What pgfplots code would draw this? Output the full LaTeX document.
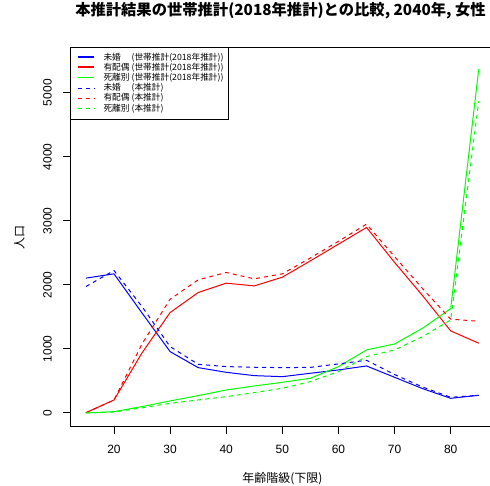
\documentclass[border=0pt]{standalone}
\usepackage{fontspec}
\setmainfont{Liberation Sans}
\newfontfamily\cjk{Noto Sans CJK JP}
\usepackage{pgfplots}
\pgfplotsset{compat=1.18}
\usepackage{pgfplotstable}
\definecolor{rblue}{RGB}{0,0,255}
\definecolor{rred}{RGB}{255,0,0}
\definecolor{rgreen}{RGB}{0,255,0}
\pgfplotstableread{
x  bs   bd   rs   rd   gs   gd
15 2105 1974 5    5    0    0
20 2172 2224 203  203  21   15
25 1560 1660 940  1080 100  80
30 958  1036 1568 1776 188  151
35 708  760  1880 2078 271  203
40 635  724  2026 2193 359  255
45 583  714  1984 2094 422  318
50 567  708  2120 2172 479  385
55 620  712  2375 2420 542  490
60 672  766  2635 2680 724  646
65 734  823  2896 2948 984  880
70 557  600  2350 2440 1078 984
75 380  405  1830 1940 1323 1193
80 229  245  1281 1464 1630 1453
85 276  276  1089 1432 5370 4864
}\data
\begin{document}
\begin{tikzpicture}
\useasboundingbox (-70.23pt,-59.3pt) rectangle (419.77pt,426.7pt);
\begin{axis}[
  at={(0,0)}, anchor=south west,
  scale only axis, width=424.24pt, height=379pt,
  xmin=12.2, xmax=87.8, ymin=-214, ymax=5702,
  xtick={20,30,...,80}, ytick={0,1000,...,5000},
  xtick pos=lower, ytick pos=left,
  tick align=outside, major tick length=7pt,
  every tick/.style={black, line width=1pt},
  axis line style={black, line width=1pt},
  /pgf/number format/assume math mode=true,
  /pgf/number format/1000 sep={},
  scaled y ticks=false,
  tick label style={font=\fontsize{12}{14}\selectfont},
  xticklabel style={anchor=north, inner sep=0pt},
  xticklabel shift=11.5pt,
  yticklabel style={rotate=90, anchor=south, inner sep=0pt},
  yticklabel shift=11.2pt,
  title={本推計結果の世帯推計(2018年推計)との比較, 2040年, 女性},
  title style={at={(axis description cs:0.4956,1.081)}, anchor=center, inner sep=0pt, font=\cjk\bfseries\fontsize{15.3}{17}\selectfont},
  xlabel={年齢階級(下限)},
  xlabel style={at={(axis description cs:0.5,-0.138)}, anchor=center, inner sep=0pt, font=\cjk\fontsize{12}{14}\selectfont},
  ylabel={人口},
  ylabel style={at={(axis description cs:-0.1195,0.5)}, anchor=center, inner sep=0pt, font=\cjk\fontsize{12}{14}\selectfont},
  legend style={at={(axis description cs:0,1)}, anchor=north west, draw=none, fill=none,
    inner xsep=6.7pt, inner ysep=4.5pt, row sep=0pt, column sep=8.4pt,
    font=\cjk\fontsize{8.7}{10}\selectfont,
    nodes={inner xsep=0pt, inner ysep=0.5pt, text height=7.2pt, text depth=2pt}},
  legend cell align=left,
]
\addplot[no markers, draw=rblue, line width=1pt,
  legend image code/.code={\draw[rblue, line width=1.4pt] (0pt,0.5pt) -- (16.6pt,0.5pt);}] table[x=x,y=bs]{\data};
\addplot[no markers, draw=rred, line width=1pt,
  legend image code/.code={\draw[rred, line width=1.4pt] (0pt,0.5pt) -- (16.6pt,0.5pt);}] table[x=x,y=rs]{\data};
\addplot[no markers, draw=rgreen, line width=1pt,
  legend image code/.code={\draw[rgreen, line width=1.4pt] (0pt,0.2pt) -- (16.6pt,0.2pt);}] table[x=x,y=gs]{\data};
\addplot[no markers, draw=rblue, line width=1pt, dash pattern=on 4pt off 4pt,
  legend image code/.code={\draw[rblue, line width=1pt, dash pattern=on 4pt off 4pt] (0pt,0pt) -- (16.6pt,0pt);}] table[x=x,y=bd]{\data};
\addplot[no markers, draw=rred, line width=1pt, dash pattern=on 4pt off 4pt,
  legend image code/.code={\draw[rred, line width=1pt, dash pattern=on 4pt off 4pt] (0pt,0pt) -- (16.6pt,0pt);}] table[x=x,y=rd]{\data};
\addplot[no markers, draw=rgreen, line width=1pt, dash pattern=on 4pt off 4pt,
  legend image code/.code={\draw[rgreen, line width=1pt, dash pattern=on 4pt off 4pt] (0pt,0pt) -- (16.6pt,0pt);}] table[x=x,y=gd]{\data};
\legend{未婚　 (世帯推計(2018年推計)),有配偶 (世帯推計(2018年推計)),死離別 (世帯推計(2018年推計)),未婚　 (本推計),有配偶 (本推計),死離別 (本推計)}
\draw[black, line width=1pt] (rel axis cs:0,1) rectangle ([xshift=158pt,yshift=-71.7pt]rel axis cs:0,1);
\end{axis}
\end{tikzpicture}
\end{document}
